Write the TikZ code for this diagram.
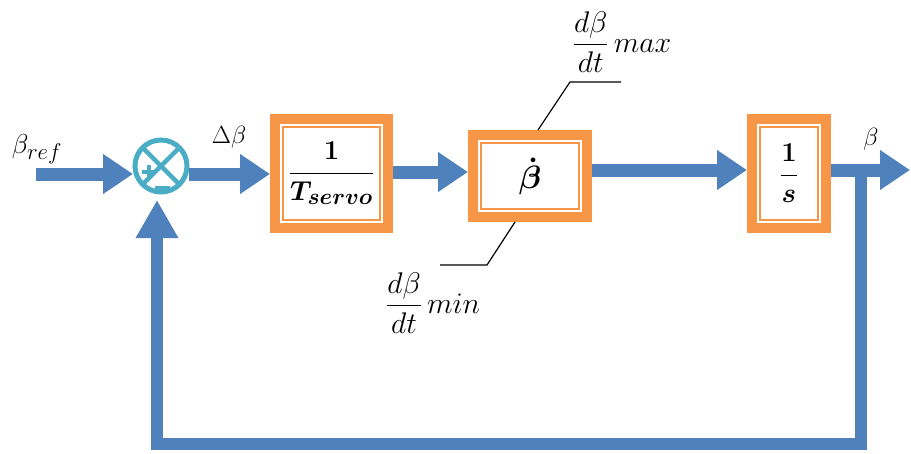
\documentclass[tikz,border=0pt]{standalone}
\usepackage{amsmath}
\usepackage{bm}
\usepackage{graphicx}
\usetikzlibrary{arrows.meta,calc}
\definecolor{flowblue}{HTML}{4F81BD}
\definecolor{boxorange}{HTML}{F79646}
\definecolor{sumteal}{HTML}{4BACC6}
\begin{document}
\begin{tikzpicture}[x=1pt,y=-1pt,
  flow/.style={draw=flowblue, line width=13pt, -{Triangle[length=30pt,width=38pt]}},
  fbline/.style={draw=flowblue, line width=12pt, line join=miter, -{Triangle[length=38pt,width=40pt]}},
  blk/.style={draw=boxorange, line width=10pt, fill=white, inner sep=0pt, font=\Huge},
  innerline/.style={draw=boxorange, line width=2pt},
  lbl/.style={inner sep=0pt, font=\Huge},
  satline/.style={draw=black, line width=1.2pt},
  sumline/.style={draw=sumteal, line width=4.5pt}
]
\useasboundingbox (0,0) rectangle (911,453);

% blocks
\node[blk, minimum width=113pt, minimum height=109pt] (b1) at (331.5,173.5) {\scalebox{1.1}{$\bm{\dfrac{1}{T_{servo}}}$}};
\node[blk, minimum width=114pt, minimum height=82pt] (b2) at (530,176) {\scalebox{1.3}{$\bm{\dot{\beta}}$}};
\node[blk, minimum width=74pt, minimum height=109pt] (b3) at (789,173.5) {\scalebox{1.1}{$\bm{\dfrac{1}{s}}$}};
\draw[innerline] ($(b1.north west)+(13,13)$) rectangle ($(b1.south east)+(-13,-13)$);
\draw[innerline] ($(b2.north west)+(13,13)$) rectangle ($(b2.south east)+(-13,-13)$);
\draw[innerline] ($(b3.north west)+(13,13)$) rectangle ($(b3.south east)+(-13,-13)$);

% summing junction
\node[circle, draw=sumteal, line width=5pt, minimum size=52pt, inner sep=0pt, outer sep=0pt] (sum) at (161,166) {};
\draw[sumline] (sum.north west) -- (sum.south east);
\draw[sumline] (sum.north east) -- (sum.south west);
\draw[draw=sumteal, line width=3.5pt] (142,172) -- (156,172) (149,165) -- (149,179);
\draw[draw=sumteal, line width=3.5pt] (155,188) -- (170,188);

% coordinates
\coordinate (in) at (36,174);
\coordinate (out) at (910,170);
\coordinate (fb) at (861,170);
\coordinate (c1) at (861,444);
\coordinate (c2) at (157,444);
\coordinate (fbtip) at (157,200);

% forward path
\draw[flow] (in) -- ([xshift=-2pt]sum.west |- in);
\draw[flow] (189,174) -- (b1.west |- 0,174);
\draw[flow] (b1.east |- 0,172) -- (b2.west |- 0,172);
\draw[flow] (b2.east |- 0,170) -- (b3.west |- 0,170);
\draw[flow] (b3.east |- out) -- (out);

% feedback
\draw[fbline] (fb) -- (c1) -- (c2) -- (fbtip);

% labels
\node[lbl] (lref) at (37,149) {\scalebox{1.1}{$\beta_{ref}$}};
\node[lbl] (ldb) at (229,137) {$\Delta\beta$};
\node[lbl] (lout) at (871,139) {$\beta$};
\node[lbl] (lmax) at (622,42) {\scalebox{1.2}{$\dfrac{d\beta}{dt}\,max$}};
\node[lbl] (lmin) at (433,303) {\scalebox{1.2}{$\dfrac{d\beta}{dt}\,min$}};

% saturation leaders
\coordinate (m1) at (570,82);
\coordinate (m2) at (621,82);
\coordinate (n1) at (487,265);
\coordinate (n2) at (440,265);
\draw[satline] ([xshift=8pt]b2.north) -- (m1) -- (m2);
\draw[satline] ([xshift=-15pt]b2.south) -- (n1) -- (n2);
\end{tikzpicture}
\end{document}
